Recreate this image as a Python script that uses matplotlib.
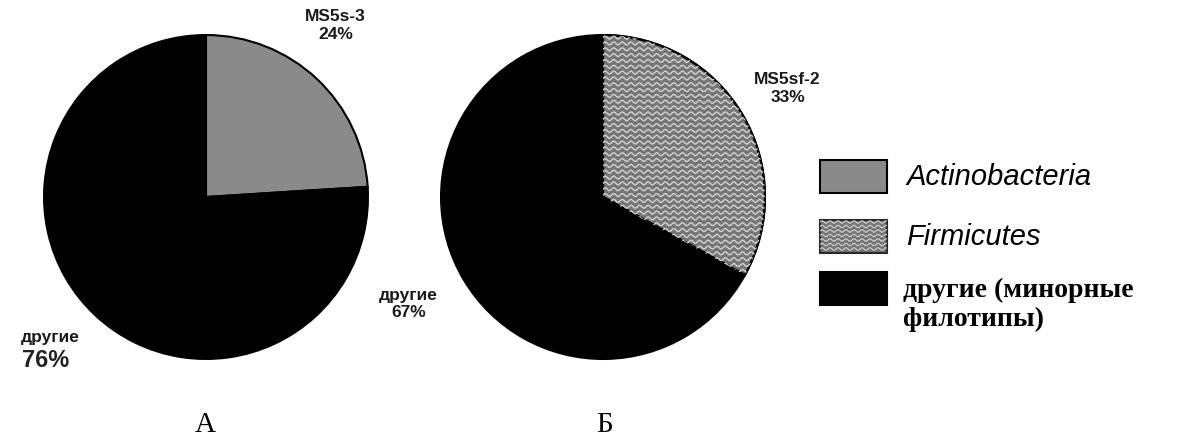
import numpy as np
import matplotlib.pyplot as plt
from matplotlib.patches import Rectangle

W, H = 1191, 441

panel_names = ['А', 'Б']
labels_a = ['MS5s-3', 'другие']
shares_a = [24, 76]
labels_b = ['MS5sf-2', 'другие']
shares_b = [33, 67]
legend_names = ['Actinobacteria', 'Firmicutes', 'другие (минорные\nфилотипы)']

GRAY = '#8a8a8a'
WAVE_BASE = '#767676'
WAVE_LINE = '#d4d4d4'
SANS = 'Liberation Sans'
SERIF = 'Liberation Serif'

fig = plt.figure(figsize=(W / 100, H / 100), dpi=100)


def px_axes(x0, y0, x1, y1):
    # axes given by pixel box (top-left origin)
    return fig.add_axes([x0 / W, 1 - y1 / H, (x1 - x0) / W, (y1 - y0) / H])


def waves(ax, clip, x0, x1, y0, y1, step, period, amp, lw=1.0):
    xs = np.linspace(x0, x1, 800)
    for y in np.arange(y0, y1, step):
        ln, = ax.plot(xs, y + amp * np.sin(2 * np.pi * xs / period),
                      color=WAVE_LINE, lw=lw, solid_capstyle='butt')
        ln.set_clip_path(clip)


def draw_pie(ax, shares, colors):
    wedges, _ = ax.pie(shares, colors=colors, startangle=90, counterclock=False,
                       radius=1, wedgeprops=dict(edgecolor='black', linewidth=1.5))
    ax.set_xlim(-1.0125, 1.0125)
    ax.set_ylim(-1.0125, 1.0125)
    ax.set_aspect('equal')
    ax.axis('off')
    return wedges


lbl = dict(ha='center', va='center', fontsize=12.5, family=SANS,
           fontweight='bold', color='#1a1a1a', linespacing=1.2)

# pie A
ax_a = px_axes(42, 33, 370, 361)
draw_pie(ax_a, shares_a, [GRAY, 'black'])
ax_a.text(0.80, 1.06, f'{labels_a[0]}\n{shares_a[0]}%', **lbl)
ax_a.text(-0.963, -0.87, labels_a[1], **lbl)
ax_a.text(-0.99, -1.01, f'{shares_a[1]}%', ha='center', va='center', fontsize=17,
          family=SANS, fontweight='bold', color='#222222')

# pie B
ax_b = px_axes(439, 33, 767, 361)
wb = draw_pie(ax_b, shares_b, [WAVE_BASE, 'black'])
waves(ax_b, wb[0], -0.1, 1.1, -0.6, 1.1, 0.036, 0.053, 0.009)
ax_b.text(1.14, 0.67, f'{labels_b[0]}\n{shares_b[0]}%', **lbl)
ax_b.text(-1.20, -0.66, f'{labels_b[1]}\n{shares_b[1]}%', **lbl)
# redraw the wedge outline over the waves
ax_b.add_patch(plt.matplotlib.patches.Wedge((0, 0), 1, 90 - 3.6 * shares_b[0], 90,
                                             facecolor='none', edgecolor='black', lw=1.5))

# legend
ax_l = px_axes(800, 140, 1191, 345)
ax_l.set_xlim(800, 1191)
ax_l.set_ylim(345, 140)
ax_l.axis('off')
box_y = [160, 220, 272]
box_fc = [GRAY, WAVE_BASE, 'black']
for y, fc in zip(box_y, box_fc):
    r = Rectangle((820, y), 67, 33, facecolor=fc, edgecolor='black', lw=1.5)
    ax_l.add_patch(r)
    if fc == WAVE_BASE:
        waves(ax_l, r, 820, 887, y + 2, y + 33, 4.5, 8, 1.2, lw=0.8)
        ax_l.add_patch(Rectangle((820, y), 67, 33, facecolor='none',
                                 edgecolor='#333333', lw=1.2))
ax_l.text(906, 177, legend_names[0], ha='left', va='center', fontsize=21,
          family=SANS, style='italic')
ax_l.text(906, 237, legend_names[1], ha='left', va='center', fontsize=21,
          family=SANS, style='italic')
ax_l.text(903, 305, legend_names[2], ha='left', va='center', fontsize=20,
          family=SERIF, fontweight='bold', linespacing=1.2)

# panel letters
fig.text(205 / W, 1 - 425 / H, panel_names[0], ha='center', va='center',
         fontsize=21, family=SERIF)
fig.text(605 / W, 1 - 425 / H, panel_names[1], ha='center', va='center',
         fontsize=21, family=SERIF)

fig.savefig('out.png', dpi=100)
